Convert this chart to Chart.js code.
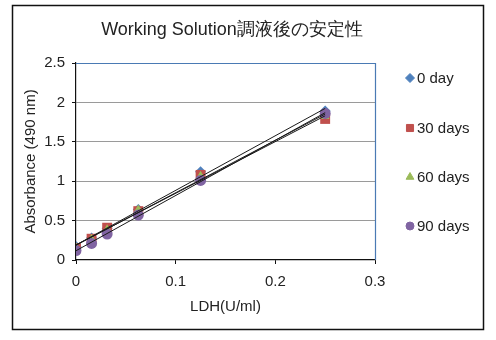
<!DOCTYPE html>
<html lang="ja">
  <head>
    <meta charset="UTF-8">
    <title>Working Solution調液後の安定性</title>
    <script src="https://cdn.jsdelivr.net/npm/chart.js@4/dist/chart.umd.min.js"></script>
    <style>
      html, body { margin: 0; padding: 0; background: #fff; }
      #stability_chart { display: block; }
    </style>
    <script>
      // LDH濃度 (U/ml) と各保存日数の吸光度
      const ldh = [0, 0.015625, 0.03125, 0.0625, 0.125, 0.25];
      const seriesNames = ['0 day', '30 days', '60 days', '90 days'];
      const day0 = [0.17, 0.28, 0.40, 0.64, 1.12, 1.89];
      const day30 = [0.15, 0.27, 0.41, 0.62, 1.08, 1.79];
      const day60 = [0.16, 0.27, 0.39, 0.64, 1.07, 1.82];
      const day90 = [0.12, 0.21, 0.33, 0.57, 1.01, 1.86];
      const xTicks = [0, 0.1, 0.2, 0.3];
      const yTicks = [0, 0.5, 1, 1.5, 2, 2.5];

      const colors = ['#4f81bd', '#c0504d', '#9bbb59', '#8064a2'];
      const styles = ['rectRot', 'rect', 'triangle', 'circle'];
      const radii = [5.5, 7, 5, 5.5];
      const legendRadii = [4.5, 5, 4.5, 4];
      const FONT = '"Liberation Sans", Arial, sans-serif';

      // 最小二乗法で近似直線を求める
      const fitLine = (xs, ys) => {
        const n = xs.length;
        const mx = xs.reduce((a, b) => a + b, 0) / n;
        const my = ys.reduce((a, b) => a + b, 0) / n;
        let sxy = 0, sxx = 0;
        xs.forEach((x, i) => { sxy += (x - mx) * (ys[i] - my); sxx += (x - mx) * (x - mx); });
        const slope = sxy / sxx;
        const icpt = my - slope * mx;
        const x0 = Math.min(...xs), x1 = Math.max(...xs);
        return [{x: x0, y: icpt + slope * x0}, {x: x1, y: icpt + slope * x1}];
      };

      // タイトル・外枠・プロット枠・凡例
      const decorations = {
        id: 'decorations',
        afterDraw(chart) {
          const ctx = chart.ctx;
          const area = chart.chartArea;
          ctx.save();
          ctx.strokeStyle = '#4a7ab4';
          ctx.lineWidth = 1.2;
          ctx.beginPath();
          ctx.moveTo(area.left, area.top + 0.5);
          ctx.lineTo(area.right + 0.5, area.top + 0.5);
          ctx.lineTo(area.right + 0.5, area.bottom);
          ctx.stroke();

          ctx.strokeStyle = '#111';
          ctx.lineWidth = 1.5;
          ctx.strokeRect(12.5, 5.5, 471, 324);

          ctx.fillStyle = '#222';
          ctx.font = '18px ' + FONT;
          ctx.textAlign = 'center';
          ctx.textBaseline = 'middle';
          ctx.fillText('Working Solution調液後の安定性', 232, 30);

          ctx.font = '15px ' + FONT;
          ctx.textAlign = 'left';
          const legendY = [78, 128, 177, 226];
          seriesNames.forEach((name, i) => {
            ctx.fillStyle = colors[i];
            ctx.strokeStyle = colors[i];
            ctx.lineWidth = 1;
            Chart.helpers.drawPoint(ctx, {pointStyle: styles[i], radius: legendRadii[i], rotation: 0, borderWidth: 1}, 410, legendY[i]);
            ctx.fillStyle = '#222';
            ctx.fillText(name, 417, legendY[i] + 1);
          });
          ctx.restore();
        }
      };

      window.onload = function () {
        const allSeries = [day0, day30, day60, day90];
        const datasets = [];
        allSeries.forEach((ys, i) => {
          datasets.push({
            label: seriesNames[i],
            data: ldh.map((x, j) => ({x: x, y: ys[j]})),
            showLine: false,
            pointStyle: styles[i],
            pointRadius: radii[i],
            pointBackgroundColor: colors[i],
            pointBorderColor: colors[i],
            pointBorderWidth: 0,
            order: 10 - i
          });
        });
        allSeries.forEach((ys, i) => {
          datasets.push({
            label: seriesNames[i] + ' fit',
            data: fitLine(ldh, ys),
            showLine: true,
            borderColor: '#1a1a1a',
            borderWidth: 1,
            pointRadius: 0,
            order: 0
          });
        });

        const chartCtx = document.getElementById('stability_chart').getContext('2d');
        new Chart(chartCtx, {
          type: 'scatter',
          data: { datasets: datasets },
          options: {
            responsive: false,
            animation: false,
            events: [],
            layout: { padding: { top: 63, left: 0, right: 121, bottom: 0 } },
            plugins: {
              legend: { display: false },
              title: { display: false },
              tooltip: { enabled: false }
            },
            scales: {
              x: {
                type: 'linear',
                min: 0,
                max: 0.3,
                afterFit: (scale) => { scale.height = 80; },
                afterBuildTicks: (scale) => { scale.ticks = xTicks.map(v => ({value: v})); },
                grid: { drawOnChartArea: false, tickLength: 4, tickColor: '#111' },
                border: { color: '#111', width: 1.2 },
                ticks: {
                  color: '#222',
                  padding: 9,
                  font: { family: FONT, size: 15 },
                  callback: (v) => String(v)
                },
                title: {
                  display: true,
                  text: 'LDH(U/ml)',
                  color: '#222',
                  font: { family: FONT, size: 15 },
                  padding: { top: 24, bottom: 24 }
                }
              },
              y: {
                min: 0,
                max: 2.5,
                afterFit: (scale) => { scale.width = 76; },
                afterBuildTicks: (scale) => { scale.ticks = yTicks.map(v => ({value: v})); },
                grid: {
                  color: (c) => (c.tick && c.tick.value > 0 && c.tick.value < 2.5) ? '#9a9a9a' : 'rgba(0,0,0,0)',
                  lineWidth: 1,
                  tickLength: 4,
                  tickColor: '#111'
                },
                border: { color: '#111', width: 1.2 },
                ticks: {
                  color: '#222',
                  padding: 7,
                  font: { family: FONT, size: 15 },
                  callback: (v) => String(v)
                },
                title: {
                  display: true,
                  text: 'Absorbance (490 nm)',
                  color: '#222',
                  font: { family: FONT, size: 15 },
                  padding: { top: 22, bottom: 22 }
                }
              }
            }
          },
          plugins: [decorations]
        });
      };
    </script>
  </head>
  <body>
    <canvas id="stability_chart" width="496" height="340"></canvas>
  </body>
</html>
